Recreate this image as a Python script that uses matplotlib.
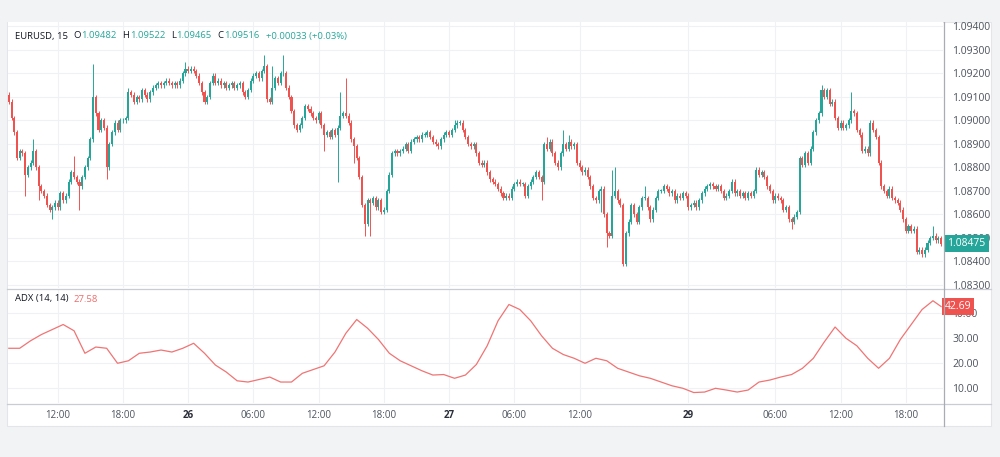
import numpy as np
import matplotlib
matplotlib.use("Agg")
import matplotlib.pyplot as plt
from matplotlib.patches import Rectangle
from matplotlib.lines import Line2D
import matplotlib.transforms as mtransforms

# ---- data (15 min EURUSD candles, price given as pips above 1.08000) ----
base = 1.08
first_open_pip = 111
close_pips = [
    108, 101, 95, 84, 87, 86, 77, 80, 82, 87,
    80, 72, 70, 68, 64, 62, 63, 65, 63, 69,
    66, 68, 74, 78, 76, 74, 72, 76, 80, 84,
    92, 110, 103, 96, 100, 97, 80, 90, 95, 99,
    96, 100, 100, 101, 112, 111, 108, 110, 109, 113,
    111, 109, 112, 114, 115, 116, 115, 116, 117, 116,
    115, 116, 115, 117, 120, 122, 121, 122, 121, 119,
    116, 112, 108, 110, 116, 119, 116, 117, 115, 116,
    114, 115, 116, 114, 115, 116, 112, 110, 113, 117,
    119, 120, 118, 121, 123, 109, 108, 114, 118, 116,
    120, 120, 114, 110, 104, 98, 96, 98, 101, 106,
    105, 103, 101, 100, 103, 98, 94, 95, 93, 96,
    94, 97, 102, 103, 102, 99, 92, 89, 84, 76,
    64, 56, 66, 65, 67, 63, 66, 61, 62, 70,
    77, 86, 87, 86, 87, 88, 90, 87, 91, 92,
    93, 92, 94, 94, 95, 93, 91, 90, 89, 92,
    94, 95, 94, 96, 98, 99, 99, 96, 93, 90,
    89, 90, 86, 82, 81, 82, 78, 75, 74, 73,
    71, 69, 67, 68, 67, 71, 73, 74, 73, 73,
    68, 72, 74, 76, 78, 76, 74, 90, 88, 91,
    86, 82, 80, 86, 90, 88, 91, 89, 90, 82,
    80, 78, 79, 76, 72, 67, 66, 70, 71, 60,
    52, 51, 68, 70, 66, 64, 39, 52, 57, 64,
    60, 57, 63, 67, 67, 63, 58, 62, 67, 70,
    70, 72, 71, 69, 70, 66, 68, 67, 69, 68,
    63, 64, 65, 63, 66, 69, 71, 72, 73, 72,
    71, 72, 70, 67, 68, 70, 74, 69, 70, 68,
    69, 67, 69, 68, 70, 79, 77, 78, 76, 72,
    70, 66, 68, 67, 66, 62, 63, 58, 57, 59,
    61, 84, 81, 86, 82, 88, 95, 100, 103, 113,
    110, 113, 107, 108, 101, 97, 99, 97, 98, 100,
    104, 103, 96, 94, 87, 88, 86, 99, 96, 93,
    82, 72, 70, 68, 71, 67, 66, 65, 62, 58,
    53, 55, 53, 54, 44, 45, 43, 45, 48, 50,
    51, 49, 50, 47.5,
]
# long wicks (bar index -> pips)
high_wicks = {9: 92, 24: 85, 31: 124, 44: 114, 65: 125, 94: 128, 97: 123,
              101: 128, 122: 112, 124: 118, 164: 100, 198: 93, 204: 96,
              206: 94, 222: 79, 223: 80, 234: 72, 266: 75, 299: 115,
              310: 112, 317: 100, 340: 55}
low_wicks = {6: 68, 11: 66, 16: 58, 26: 62, 36: 75, 116: 87, 121: 74,
             127: 82, 131: 51, 133: 51, 196: 66, 218: 61, 220: 46, 226: 38,
             288: 54, 336: 42}
typical_wick = 1.0

# ADX(14, 14), read once per hour
adx_bars = list(range(0, 344, 4)) + [343]
adx_values = [
    26, 26, 29, 31.5, 33.5, 35.5, 33, 24, 26.5, 26,
    20, 21, 24, 24.5, 25.3, 24.5, 26, 28, 24, 19.3,
    16.5, 13, 12.5, 13.5, 14.5, 12.5, 12.5, 16, 17.5, 19,
    24.5, 32, 37.5, 34, 29.5, 24, 21, 19, 17, 15.3,
    15.5, 14, 15.3, 19.5, 27, 37, 43.5, 41.5, 37, 31,
    26, 23.5, 22, 20, 22, 21, 18, 16.5, 15, 14,
    12.5, 11, 10, 8.3, 8.5, 10, 9.3, 8.5, 9.3, 12.5,
    13.3, 14.5, 15.5, 18, 22, 28.5, 34.5, 30, 27, 22,
    18, 22, 29.5, 35.5, 41.5, 45, 42.69,
]

tick_bars = [18, 42, 66, 90, 114, 138, 162, 186, 210, 250, 282, 306, 330]
tick_labels = ['12:00', '18:00', '26', '06:00', '12:00', '18:00', '27',
               '06:00', '12:00', '29', '06:00', '12:00', '18:00']
price_ticks = [1.083, 1.084, 1.085, 1.086, 1.087, 1.088, 1.089,
               1.090, 1.091, 1.092, 1.093, 1.094]
adx_ticks = [10, 20, 30, 40]

# ---- layout helpers (pixel coords, origin top-left) ----
W, H = 1000, 457
plt.rcParams['font.family'] = ['Open Sans', 'DejaVu Sans']
fig = plt.figure(figsize=(W / 100, H / 100), dpi=100)
fig.patch.set_facecolor('#f2f3f5')

def fx(px):
    return px / W

def fy(py):
    return 1 - py / H

GREEN = '#26a69a'
RED = '#ef5350'
TXT = '#4c525e'
DARK = '#131722'
GRID = '#f0f1f4'
LINE = '#c9ccd2'

fig.add_artist(Rectangle((fx(7), fy(426)), fx(991) - fx(7), fy(22) - fy(426),
                         transform=fig.transFigure, facecolor='white',
                         edgecolor='#e4e5e8', lw=0.8, zorder=0))

ax = fig.add_axes([fx(8), fy(288), fx(943) - fx(8), fy(22) - fy(288)])
ax2 = fig.add_axes([fx(8), fy(403), fx(943) - fx(8), fy(289) - fy(403)])
for a in (ax, ax2):
    a.set_facecolor('white')
    for s in a.spines.values():
        s.set_visible(False)
    a.set_xlim(-0.3, 343.7)
    a.set_xticks(tick_bars)
    a.grid(True, color=GRID, lw=0.8)
    a.set_axisbelow(True)
    a.yaxis.tick_right()
    a.tick_params(axis='both', length=0)

# ---- candles ----
c = np.array(close_pips, dtype=float)
o = np.concatenate([[first_open_pip], c[:-1]])
hi = np.maximum(o, c) + typical_wick
lo = np.minimum(o, c) - typical_wick
for k, v in high_wicks.items():
    hi[k] = v
for k, v in low_wicks.items():
    lo[k] = v
idx = np.arange(len(c))
cols = [GREEN if cc >= oo else RED for oo, cc in zip(o, c)]
body_lo = np.minimum(o, c)
body_h = np.maximum(np.abs(c - o), 0.4)
ax.vlines(idx, base + lo / 1e4, base + hi / 1e4, colors=cols, lw=0.7, zorder=2)
ax.bar(idx, body_h / 1e4, bottom=base + body_lo / 1e4, width=0.75,
       color=cols, linewidth=0, zorder=3)

ax.set_ylim(1.082872, 1.094191)
ax.set_yticks(price_ticks)
ax.set_yticklabels([f'{p:.5f}' for p in price_ticks])
ax.tick_params(axis='y', pad=6.5, labelsize=7.5, labelcolor=TXT)
ax.tick_params(axis='x', labelbottom=False)

last = base + c[-1] / 1e4
trans = mtransforms.blended_transform_factory(ax.transAxes, ax.transData)
ax.text(1.0045, last, f'{last:.5f}', transform=trans, color='white',
        fontsize=7.5, va='center', ha='left', clip_on=False, zorder=6,
        bbox=dict(boxstyle='square,pad=0.3', fc=GREEN, ec='none'))

# ---- ADX ----
ax2.plot(adx_bars, adx_values, color='#f07474', lw=0.9, zorder=3)
ax2.set_ylim(4.12, 49.7)
ax2.set_yticks(adx_ticks)
ax2.set_yticklabels([f'{t:.2f}' for t in adx_ticks])
ax2.tick_params(axis='y', pad=6.5, labelsize=7.5, labelcolor=TXT)
ax2.set_xticklabels(tick_labels)
ax2.tick_params(axis='x', pad=5, labelsize=7, labelcolor=TXT)
for lab in ax2.get_xticklabels():
    if ':' not in lab.get_text():
        lab.set_fontweight('bold')
        lab.set_color('#2a2e39')
trans2 = mtransforms.blended_transform_factory(ax2.transAxes, ax2.transData)
ax2.text(1.002, adx_values[-1], f'{adx_values[-1]:.2f}', transform=trans2,
         color='white', fontsize=7.5, va='center', ha='left', clip_on=False,
         zorder=6, bbox=dict(boxstyle='square,pad=0.3', fc=RED, ec='none'))

# ---- separators ----
fig.add_artist(Line2D([fx(7), fx(991)], [fy(288.5)] * 2, color=LINE, lw=0.9))
fig.add_artist(Line2D([fx(7), fx(991)], [fy(403.5)] * 2, color=LINE, lw=0.9))
fig.add_artist(Line2D([fx(943.5)] * 2, [fy(22), fy(426)], color='#a9acb4', lw=0.9))
# top strip covers the half-hidden top price label
fig.add_artist(Rectangle((0, fy(22)), 1, 22 / H, transform=fig.transFigure,
                         facecolor='#f2f3f5', edgecolor='none', zorder=10))

# ---- legend texts, laid out left to right ----
renderer = fig.canvas.get_renderer()
fs = 6.8

def text_run(x, y, parts):
    for txt, col, gap in parts:
        t = fig.text(fx(x), fy(y), txt, color=col, fontsize=fs, va='center')
        x += t.get_window_extent(renderer=renderer).width + gap

text_run(15, 36, [('EURUSD, 15', DARK, 5),
                  ('O', DARK, 0.5), ('1.09482', GREEN, 6),
                  ('H', DARK, 0.5), ('1.09522', GREEN, 6),
                  ('L', DARK, 0.5), ('1.09465', GREEN, 6),
                  ('C', DARK, 0.5), ('1.09516', GREEN, 6),
                  ('+0.00033 (+0.03%)', GREEN, 0)])
text_run(15, 299, [('ADX (14, 14)', DARK, 5), ('27.58', '#ee6b6b', 0)])

fig.savefig('out.png', dpi=100, facecolor=fig.get_facecolor())
